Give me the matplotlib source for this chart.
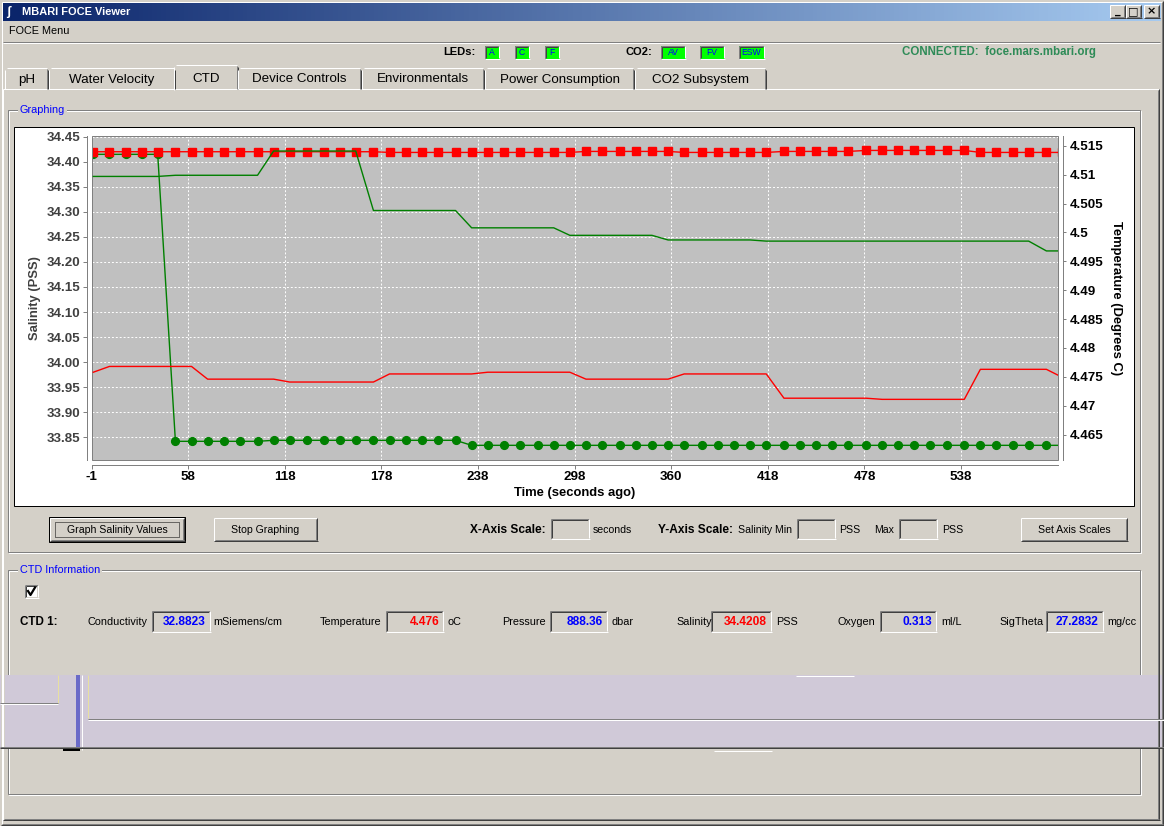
''' Rebuild the MBARI FOCE Viewer CTD tab: salinity and temperature of the
    two CTDs over the last ten minutes, plus the window around the graph '''

import numpy as np
import matplotlib.pyplot as plt
from matplotlib.patches import Rectangle
from matplotlib.colors import LinearSegmentedColormap

plt.rcParams['font.family'] = ['Liberation Sans', 'DejaVu Sans']

# values (red = CTD 1, green = CTD 2)
seconds_ago = [0, 10, 20, 30, 40, 51, 61, 71, 81, 91,
               102, 112, 122, 133, 143, 153, 163, 174, 184, 194,
               204, 214, 225, 235, 245, 255, 265, 276, 286, 296,
               306, 316, 327, 337, 347, 357, 367, 378, 388, 398,
               408, 418, 429, 439, 449, 459, 469, 480, 490, 500,
               510, 520, 530, 541, 551, 561, 571, 581, 592, 602]

salinity_ctd1 = [34.4200, 34.4200, 34.4200, 34.4200, 34.4200, 34.4200, 34.4200, 34.4200, 34.4200, 34.4200,
                 34.4200, 34.4200, 34.4200, 34.4200, 34.4200, 34.4200, 34.4200, 34.4200, 34.4186, 34.4186,
                 34.4186, 34.4186, 34.4186, 34.4186, 34.4186, 34.4186, 34.4186, 34.4186, 34.4186, 34.4186,
                 34.4206, 34.4206, 34.4206, 34.4206, 34.4206, 34.4206, 34.4186, 34.4186, 34.4186, 34.4186,
                 34.4186, 34.4186, 34.4206, 34.4206, 34.4206, 34.4206, 34.4206, 34.4226, 34.4226, 34.4226,
                 34.4226, 34.4226, 34.4226, 34.4226, 34.4186, 34.4186, 34.4186, 34.4186, 34.4186, 34.4186]

salinity_ctd2 = [34.4148, 34.4148, 34.4148, 34.4148, 34.4148, 33.8419, 33.8419, 33.8419, 33.8419, 33.8419,
                 33.8419, 33.8439, 33.8439, 33.8439, 33.8439, 33.8439, 33.8439, 33.8439, 33.8439, 33.8439,
                 33.8439, 33.8439, 33.8439, 33.8339, 33.8339, 33.8339, 33.8339, 33.8339, 33.8339, 33.8339,
                 33.8339, 33.8339, 33.8339, 33.8339, 33.8339, 33.8339, 33.8339, 33.8339, 33.8339, 33.8339,
                 33.8339, 33.8339, 33.8339, 33.8339, 33.8339, 33.8339, 33.8339, 33.8339, 33.8339, 33.8339,
                 33.8339, 33.8339, 33.8339, 33.8339, 33.8339, 33.8339, 33.8339, 33.8339, 33.8339, 33.8339]

temp_ctd1 = [4.4758, 4.4768, 4.4768, 4.4768, 4.4768, 4.4768, 4.4768, 4.4746, 4.4746, 4.4746,
             4.4746, 4.4746, 4.4741, 4.4741, 4.4741, 4.4741, 4.4741, 4.4741, 4.4755, 4.4755,
             4.4755, 4.4755, 4.4755, 4.4755, 4.4758, 4.4758, 4.4758, 4.4758, 4.4758, 4.4758,
             4.4746, 4.4746, 4.4746, 4.4746, 4.4746, 4.4746, 4.4755, 4.4755, 4.4755, 4.4755,
             4.4755, 4.4755, 4.4713, 4.4713, 4.4713, 4.4713, 4.4713, 4.4713, 4.4711, 4.4711,
             4.4711, 4.4711, 4.4711, 4.4711, 4.4763, 4.4763, 4.4763, 4.4763, 4.4763, 4.4749]

temp_ctd2 = [4.5097, 4.5097, 4.5097, 4.5097, 4.5097, 4.5099, 4.5099, 4.5099, 4.5099, 4.5099,
             4.5099, 4.5141, 4.5141, 4.5141, 4.5141, 4.5141, 4.5141, 4.5038, 4.5038, 4.5038,
             4.5038, 4.5038, 4.5038, 4.5008, 4.5008, 4.5008, 4.5008, 4.5008, 4.5008, 4.4995,
             4.4995, 4.4995, 4.4995, 4.4995, 4.4995, 4.4987, 4.4987, 4.4987, 4.4987, 4.4987,
             4.4987, 4.4985, 4.4985, 4.4985, 4.4985, 4.4985, 4.4985, 4.4985, 4.4985, 4.4985,
             4.4985, 4.4985, 4.4985, 4.4985, 4.4985, 4.4985, 4.4985, 4.4985, 4.4968, 4.4968]

x_ticks = [-1, 59, 119, 179, 239, 299, 359, 419, 479, 539]
x_tick_labels = ['-1', '58', '118', '178', '238', '298', '360', '418', '478', '538']
sal_ticks = [33.85, 33.90, 33.95, 34.00, 34.05, 34.10, 34.15, 34.20, 34.25, 34.30, 34.35, 34.40, 34.45]
temp_ticks = [4.465, 4.47, 4.475, 4.48, 4.485, 4.49, 4.495, 4.5, 4.505, 4.51, 4.515]
temp_tick_labels = ['4.465', '4.47', '4.475', '4.48', '4.485', '4.49', '4.495', '4.5', '4.505', '4.51', '4.515']

tabs = ['pH', 'Water Velocity', 'CTD', 'Device Controls', 'Environmentals',
        'Power Consumption', 'CO2 Subsystem']
ctd_fields = [('Conductivity', '32.8823', 'mSiemens/cm', 'blue'),
              ('Temperature', '4.476', 'oC', 'red'),
              ('Pressure', '888.36', 'dbar', 'blue'),
              ('Salinity', '34.4208', 'PSS', 'red'),
              ('Oxygen', '0.313', 'ml/L', 'blue'),
              ('SigTheta', '27.2832', 'mg/cc', 'blue')]

W, H = 1164, 826
BG = '#d4d0c8'
PX = 0.72  # one pixel in points

fig = plt.figure(figsize=(W / 100, H / 100), dpi=100, facecolor=BG)
ui = fig.add_axes([0, 0, 1, 1])
ui.set_zorder(0)


def hline(x0, x1, y, c, lw=1):
    ui.plot([x0, x1], [y, y], color=c, lw=lw * PX, solid_capstyle='butt')


def vline(x, y0, y1, c, lw=1):
    ui.plot([x, x], [y0, y1], color=c, lw=lw * PX, solid_capstyle='butt')


def box(x0, y0, x1, y1, fc='none', ec='none', **kw):
    ui.add_patch(Rectangle((x0, y0), x1 - x0, y1 - y0, fc=fc, ec=ec, lw=PX, **kw))


def bevel(x0, y0, x1, y1, tl, br):
    hline(x0, x1, y0, tl)
    vline(x0, y0, y1, tl)
    hline(x0, x1 + 0.5, y1, br)
    vline(x1, y0, y1, br)


def raised(x0, y0, x1, y1):
    box(x0, y0, x1, y1, fc=BG)
    bevel(x0, y0, x1, y1, 'white', '#404040')
    bevel(x0 + 1, y0 + 1, x1 - 1, y1 - 1, BG, '#808080')


def sunken(x0, y0, x1, y1, fc=BG):
    box(x0, y0, x1, y1, fc=fc)
    bevel(x0, y0, x1, y1, '#808080', 'white')
    bevel(x0 + 1, y0 + 1, x1 - 1, y1 - 1, '#404040', BG)


def etched(x0, y0, x1, y1):
    box(x0 + 1, y0 + 1, x1 + 1, y1 + 1, ec='white')
    box(x0, y0, x1, y1, ec='#808080')


def label(x, y, s, size=7.8, weight='normal', color='black', ha='left', **kw):
    ui.text(x, y, s, fontsize=size, fontweight=weight, color=color, ha=ha, va='center', **kw)


# window frame and title bar
bevel(0.5, 0.5, W - 1, H - 1, BG, '#404040')
bevel(1.5, 1.5, W - 2, H - 2, 'white', '#808080')
tb_cmap = LinearSegmentedColormap.from_list('titlebar', ['#0a246a', '#a6caf0'])
ui.imshow(np.linspace(0, 1, 256)[None, :], extent=[3, W - 3, 21, 3], cmap=tb_cmap, aspect='auto')
label(6, 12, 'ʃ', size=9, weight='bold', color='white')
label(22, 12, 'MBARI FOCE Viewer', size=7.9, weight='bold', color='white')
for x0, glyph in [(1110, '_'), (1126, '□'), (1144, '×')]:
    raised(x0, 5, x0 + 15, 18)
    label(x0 + 7.5, 11.5, glyph, size=8, weight='bold', ha='center', family='DejaVu Sans')

# menu bar
label(9, 31, 'FOCE Menu')
hline(3, W - 4, 41.5, '#808080')
hline(3, W - 4, 42.5, 'white')

# status row
label(443, 52, 'LEDs:', size=8, weight='bold')
for x0, x1, s in [(485, 499, 'A'), (515, 529, 'C'), (545, 559, 'F'),
                  (661, 685, 'AV'), (700, 724, 'FV'), (739, 764, 'ESW')]:
    box(x0, 46, x1, 59, fc='#00ff00')
    bevel(x0, 46, x1, 59, '#808080', 'white')
    bevel(x0 + 1, 47, x1 - 1, 58, '#404040', '#00ff00')
    label((x0 + x1) / 2, 52.5, s, size=6.2, color='#0000ff', ha='center')
label(626, 52, 'CO2:', size=8, weight='bold')
label(902, 52, 'CONNECTED:  foce.mars.mbari.org', size=8.3, weight='bold', color='#2e8b57')

# tab panel and tabs
bevel(3, 89, W - 5, 820, 'white', '#404040')
bevel(4, 90, W - 6, 819, BG, '#808080')
tab_edges = [5, 49, 176, 238, 362, 485, 635, 767]
for i, name in enumerate(tabs):
    x0, x1 = tab_edges[i], tab_edges[i + 1] - 1
    top = 65 if name == 'CTD' else 68
    if name == 'CTD':
        x0, x1 = x0 - 2, x1 + 1
    box(x0, top, x1, 90 if name == 'CTD' else 89, fc=BG)
    hline(x0 + 2, x1 - 1, top, 'white')
    vline(x0, top + 2, 90 if name == 'CTD' else 89, 'white')
    vline(x1 - 1, top + 1, 89, '#808080')
    vline(x1, top + 2, 89, '#404040')
    label((x0 + x1) / 2, 78.5 if name == 'CTD' else 79.5, name, size=9.6, ha='center')

# graphing group
etched(8, 110, 1140, 552)
label(20, 110, 'Graphing', size=7.8, color='#0000ff',
      bbox=dict(fc=BG, ec='none', pad=1.5))
box(14, 127, 1134, 506, fc='white', ec='black')

# buttons and axis scale controls
box(49, 517, 185, 542, ec='black')
raised(50, 518, 184, 541)
box(55, 522, 179, 537, ec='black', ls=(0, (1, 1)))
label(117, 530, 'Graph Salinity Values', size=7.6, ha='center')
raised(214, 518, 317, 541)
label(265.5, 530, 'Stop Graphing', size=7.6, ha='center')
raised(1021, 518, 1127, 541)
label(1074, 530, 'Set Axis Scales', size=7.6, ha='center')
label(470, 530, 'X-Axis Scale:', size=8.6, weight='bold')
sunken(551, 519, 589, 539)
label(593, 530, 'seconds', size=7.6)
label(658, 530, 'Y-Axis Scale:', size=8.6, weight='bold')
label(738, 530, 'Salinity Min', size=7.6)
sunken(797, 519, 835, 539)
label(839, 530, 'PSS', size=7.6)
label(874, 530, 'Max', size=7.6)
sunken(899, 519, 937, 539)
label(942, 530, 'PSS', size=7.6)

# CTD information group
etched(8, 570, 1140, 794)
label(20, 570, 'CTD Information', size=7.8, color='#0000ff',
      bbox=dict(fc=BG, ec='none', pad=1.5))
sunken(25, 585, 38, 598, fc='white')
ui.plot([28, 30.5, 35], [591, 595, 587.5], color='black', lw=1.6)
label(20, 622, 'CTD 1:', size=8.4, weight='bold')
field_x = [(88, 152, 210, 213), (320, 386, 443, 448), (502, 550, 607, 611),
           (676, 711, 771, 776), (837, 880, 936, 941), (999, 1046, 1103, 1107)]
for (name, value, unit, col), (xl, f0, f1, xu) in zip(ctd_fields, field_x):
    label(xl, 622, name, size=7.8)
    sunken(f0, 611, f1, 632)
    label(f1 - 4, 622, value, size=8.6, weight='bold', color=col, ha='right')
    label(xu, 622, unit, size=7.8)

# repaint glitch band across the lower panel
box(0, 675, W, 749, fc='#d0c9d8')
vline(58, 675, 703, '#e8e0a0')
hline(0, 58, 703, '#808080')
hline(0, 58, 704, 'white')
box(76, 675, 80, 750, fc='#6a6ac8')
vline(82, 675, 750, 'white')
vline(88, 675, 718, '#e8e0a0')
hline(88, W, 718.5, '#808080')
hline(88, W, 719.5, 'white')
hline(0, W, 746.5, '#808080')
hline(0, W, 748, '#404040')
hline(796, 854, 676, 'white')
hline(714, 772, 751, 'white')
box(63, 749, 80, 751, fc='black')

ui.set_xlim(0, W)
ui.set_ylim(H, 0)
ui.axis('off')

# the chart itself: plot area in pixels x 91.7..1058.3, y 136..460
ax = fig.add_axes([91.7 / W, (H - 460) / H, 966.6 / W, 324 / H])
ax.set_zorder(2)
ax.set_facecolor('#c0c0c0')
ax.plot(seconds_ago, salinity_ctd2, color='#008000', marker='o', ms=5.6, lw=1.0)
ax.plot(seconds_ago, salinity_ctd1, color='#ff0000', marker='s', ms=5.5, lw=1.0)
ax.set_xlim(-1, 599.4)
ax.set_ylim(33.8046, 34.4514)
ax.set_xticks(x_ticks)
ax.set_xticklabels(x_tick_labels)
ax.set_yticks(sal_ticks)
ax.set_yticklabels([f'{v:.2f}' for v in sal_ticks])
ax.grid(True, color='white', ls=(0, (2, 2)), lw=0.7)
ax.set_axisbelow(True)

ax2 = ax.twinx()
ax2.set_zorder(3)
ax2.patch.set_visible(False)
ax2.plot(seconds_ago, temp_ctd1, color='#ff0000', lw=1.0)
ax2.plot(seconds_ago, temp_ctd2, color='#008000', lw=1.0)
ax2.set_ylim(4.4606, 4.5167)
ax2.set_yticks(temp_ticks)
ax2.set_yticklabels(temp_tick_labels)
ax2.set_xlim(-1, 599.4)

for a in (ax, ax2):
    for s in a.spines.values():
        s.set_visible(False)
ax.spines['left'].set_visible(True)
ax.spines['bottom'].set_visible(True)
ax2.spines['right'].set_visible(True)
for s in (ax.spines['left'], ax.spines['bottom'], ax2.spines['right']):
    s.set_position(('outward', 3.6))
    s.set_color('#808080')
    s.set_linewidth(PX)
ax2.add_patch(Rectangle((0, 0), 1, 1, transform=ax2.transAxes, fill=False,
                        ec='#808080', lw=PX, clip_on=False))

ax.tick_params(axis='y', direction='out', length=3, width=PX, color='#808080', pad=1.5,
               labelsize=9.6, labelcolor='#404040')
ax.tick_params(axis='x', direction='out', length=3, width=PX, color='#808080', pad=1.2,
               labelsize=9.6, labelcolor='black')
ax2.tick_params(axis='y', direction='out', length=2.5, width=PX, color='#808080', pad=2,
                labelsize=9.6, labelcolor='black')
for t in ax.get_xticklabels() + ax.get_yticklabels() + ax2.get_yticklabels():
    t.set_fontweight('bold')

ui.text(35, 298, 'Salinity (PSS)', rotation=90, fontsize=9.4, fontweight='bold',
        color='#404040', ha='center', va='center')
ui.text(1116, 298, 'Temperature (Degrees C)', rotation=270, fontsize=9.4, fontweight='bold',
        color='black', ha='center', va='center')
ui.text(575, 493, 'Time (seconds ago)', fontsize=9.4, fontweight='bold',
        color='black', ha='center', va='center')

fig.savefig('out.png', dpi=100, facecolor=BG)
